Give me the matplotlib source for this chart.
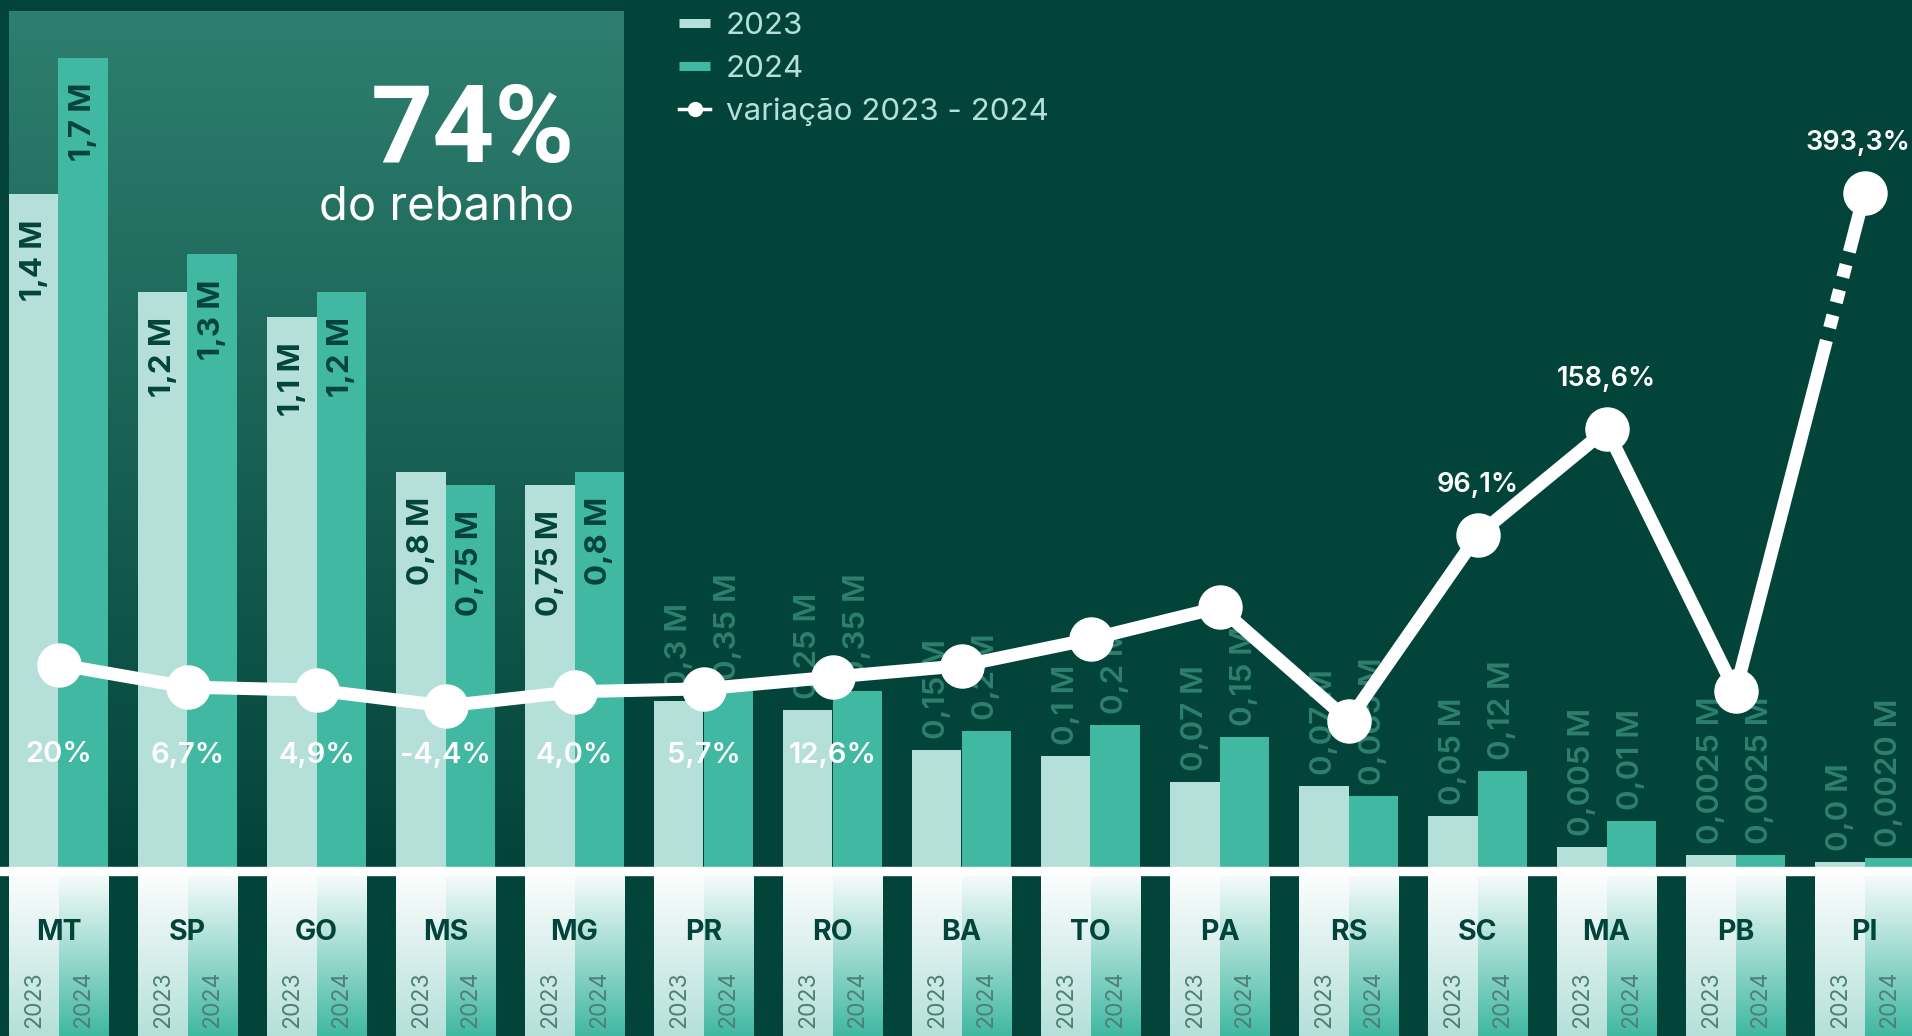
import numpy as np
import matplotlib
matplotlib.use("Agg")
import matplotlib.pyplot as plt
from matplotlib.colors import LinearSegmentedColormap
from matplotlib.lines import Line2D

plt.rcParams['font.family'] = ['Inter', 'DejaVu Sans']
plt.rcParams['lines.scale_dashes'] = False

# Dados: rebanho por estado (milhões de cabeças)
estados = ['MT', 'SP', 'GO', 'MS', 'MG', 'PR', 'RO', 'BA', 'TO', 'PA', 'RS', 'SC', 'MA', 'PB', 'PI']
rebanho_2023 = [1.414, 1.208, 1.156, 0.830, 0.803, 0.349, 0.330, 0.246, 0.233, 0.179, 0.170, 0.107, 0.042, 0.025, 0.011]
rebanho_2024 = [1.700, 1.288, 1.208, 0.803, 0.830, 0.370, 0.370, 0.286, 0.298, 0.273, 0.149, 0.202, 0.097, 0.025, 0.019]
rotulos_2023 = ['1,4 M', '1,2 M', '1,1 M', '0,8 M', '0,75 M', '0,3 M', '0,25 M', '0,15 M', '0,1 M',
                '0,07 M', '0,07 M', '0,05 M', '0,005 M', '0,0025 M', '0,0 M']
rotulos_2024 = ['1,7 M', '1,3 M', '1,2 M', '0,75 M', '0,8 M', '0,35 M', '0,35 M', '0,2 M', '0,2 M',
                '0,15 M', '0,065 M', '0,12 M', '0,01 M', '0,0025 M', '0,0020 M']
# variação 2023 - 2024 (%)
variacao = [20, 6.7, 4.9, -4.4, 4.0, 5.7, 12.6, 19.3, 35, 53.7, -13, 96.1, 158.6, 4.2, 393.3]
rotulos_var = ['20%', '6,7%', '4,9%', '-4,4%', '4,0%', '5,7%', '12,6%', None, None, None, None,
               '96,1%', '158,6%', None, '393,3%']
n_destaque = 5  # estados que somam 74% do rebanho

# cores
BG = '#03443A'
C23 = '#B5E0DA'
C24 = '#40B8A2'
ESCURO = '#03443A'
FORA = '#2F7F6E'

W = 0.38
PX = 475.9          # pixels por milhão
base_px = 867
yb = -(1036 - base_px) / PX

fig = plt.figure(figsize=(19.12, 10.36), dpi=100)
fig.patch.set_facecolor(BG)
ax = fig.add_axes([0, 0, 1, 1])
ax.set_facecolor(BG)
ax.axis('off')

x = np.arange(len(estados))
grad = np.linspace(0, 1, 256).reshape(-1, 1)

# bloco de destaque (degradê)
cmap_dest = LinearSegmentedColormap.from_list('dest', [BG, '#2E7F6F'])
ax.imshow(grad, cmap=cmap_dest, origin='lower', aspect='auto',
          extent=(-W, n_destaque - 1 + W, 0, (base_px - 11) / PX), zorder=1)

# barras
ax.bar(x - W / 2, rebanho_2023, W, color=C23, zorder=3)
ax.bar(x + W / 2, rebanho_2024, W, color=C24, zorder=3)

# caixas dos rótulos embaixo
cmap23 = LinearSegmentedColormap.from_list('c23', [C23, 'white'])
cmap24 = LinearSegmentedColormap.from_list('c24', [C24, 'white'])
for i in x:
    ax.imshow(grad, cmap=cmap23, origin='lower', aspect='auto',
              extent=(i - W, i, yb, 0), zorder=2)
    ax.imshow(grad, cmap=cmap24, origin='lower', aspect='auto',
              extent=(i, i + W, yb, 0), zorder=2)
    ax.text(i, (base_px - 932) / PX, estados[i], ha='center', va='center',
            fontsize=20.5, fontweight='bold', color=ESCURO, zorder=4)
    for dx, ano in [(-W / 2, '2023'), (W / 2, '2024')]:
        ax.text(i + dx, (base_px - 1028) / PX, ano, rotation=90, ha='center', va='bottom',
                fontsize=16.5, color='#4F8077', zorder=4)

ax.axhspan(-8 / PX, 0, color='white', zorder=3.5)

# rótulos das barras
for i in x:
    for dx, vals, rots in [(-W / 2, rebanho_2023, rotulos_2023), (W / 2, rebanho_2024, rotulos_2024)]:
        if i < n_destaque:
            ax.annotate(rots[i], (i + dx, vals[i]), xytext=(0, -18), textcoords='offset points',
                        rotation=90, ha='center', va='top', fontsize=22.5, fontweight='bold',
                        color=ESCURO, zorder=4)
        else:
            ax.annotate(rots[i], (i + dx, vals[i]), xytext=(0, 8), textcoords='offset points',
                        rotation=90, ha='center', va='bottom', fontsize=22.5, fontweight='semibold',
                        color=FORA, zorder=4)

ax.set_xlim(-58.5 / 129, 14 + (1912 - 1864.5) / 129)
ax.set_ylim(yb, base_px / PX)

# linha de variação (eixo com quebra acima de 160%)
QUEBRA, K = 160, 0.59


def fwd(v):
    v = np.asarray(v, dtype=float)
    return np.where(v <= QUEBRA, v, QUEBRA + (v - QUEBRA) * K)


def inv(u):
    u = np.asarray(u, dtype=float)
    return np.where(u <= QUEBRA, u, QUEBRA + (u - QUEBRA) / K)


ax2 = ax.twinx()
ax2.set_yscale('function', functions=(fwd, inv))
zero_px, px_pct = 698.5, 1.697
ax2.set_ylim(-(1036 - zero_px) / px_pct, float(inv(zero_px / px_pct)))
ax2.set_xlim(ax.get_xlim())
ax2.axis('off')

ax2.plot(x[:-1], variacao[:-1], color='white', lw=9.4, solid_joinstyle='round', zorder=5)
ax2.plot(x[-2:], variacao[-2:], color='white', lw=9.4,
         dashes=(261, 9.4, 9.4, 9.4, 9.4, 9.4, 9.4, 9.4, 400), zorder=5)
ax2.plot(x, variacao, 'o', ms=31, color='white', zorder=6)

for i, lbl in enumerate(rotulos_var):
    if lbl is None:
        continue
    if variacao[i] > 50:
        dx = -5 if i == len(estados) - 1 else 0   # o último encosta na borda
        ax2.annotate(lbl, (i, variacao[i]), xytext=(dx, 36), textcoords='offset points',
                     ha='center', va='center', fontsize=19.5, fontweight='semibold', color='white')
    else:
        ax.text(i, (base_px - 755) / PX, lbl, ha='center', va='center', fontsize=21,
                fontweight='semibold', color='white', zorder=6)

# destaque 74%
fig.text(575 / 1912, 1 - 162 / 1036, '74%', ha='right', va='baseline', fontsize=78,
         fontweight='bold', color='white', family=['Roboto', 'DejaVu Sans'])
fig.text(574 / 1912, 1 - 220 / 1036, 'do rebanho', ha='right', va='baseline', fontsize=34,
         color='white')

# legenda
handles = [Line2D([], [], color=C23, lw=6.5, solid_capstyle='butt'),
           Line2D([], [], color=C24, lw=6.5, solid_capstyle='butt'),
           Line2D([], [], color='white', lw=2.5, marker='o', ms=10)]
fig.legend(handles, ['2023', '2024', 'variação 2023 - 2024'], loc='upper left',
           bbox_to_anchor=(679 / 1912, 1 - 12 / 1036), frameon=False, fontsize=22.5,
           labelcolor=C23, handlelength=1.0, handletextpad=0.5, labelspacing=0.47,
           borderpad=0, borderaxespad=0)

fig.savefig('out.png', dpi=100, facecolor=BG)
